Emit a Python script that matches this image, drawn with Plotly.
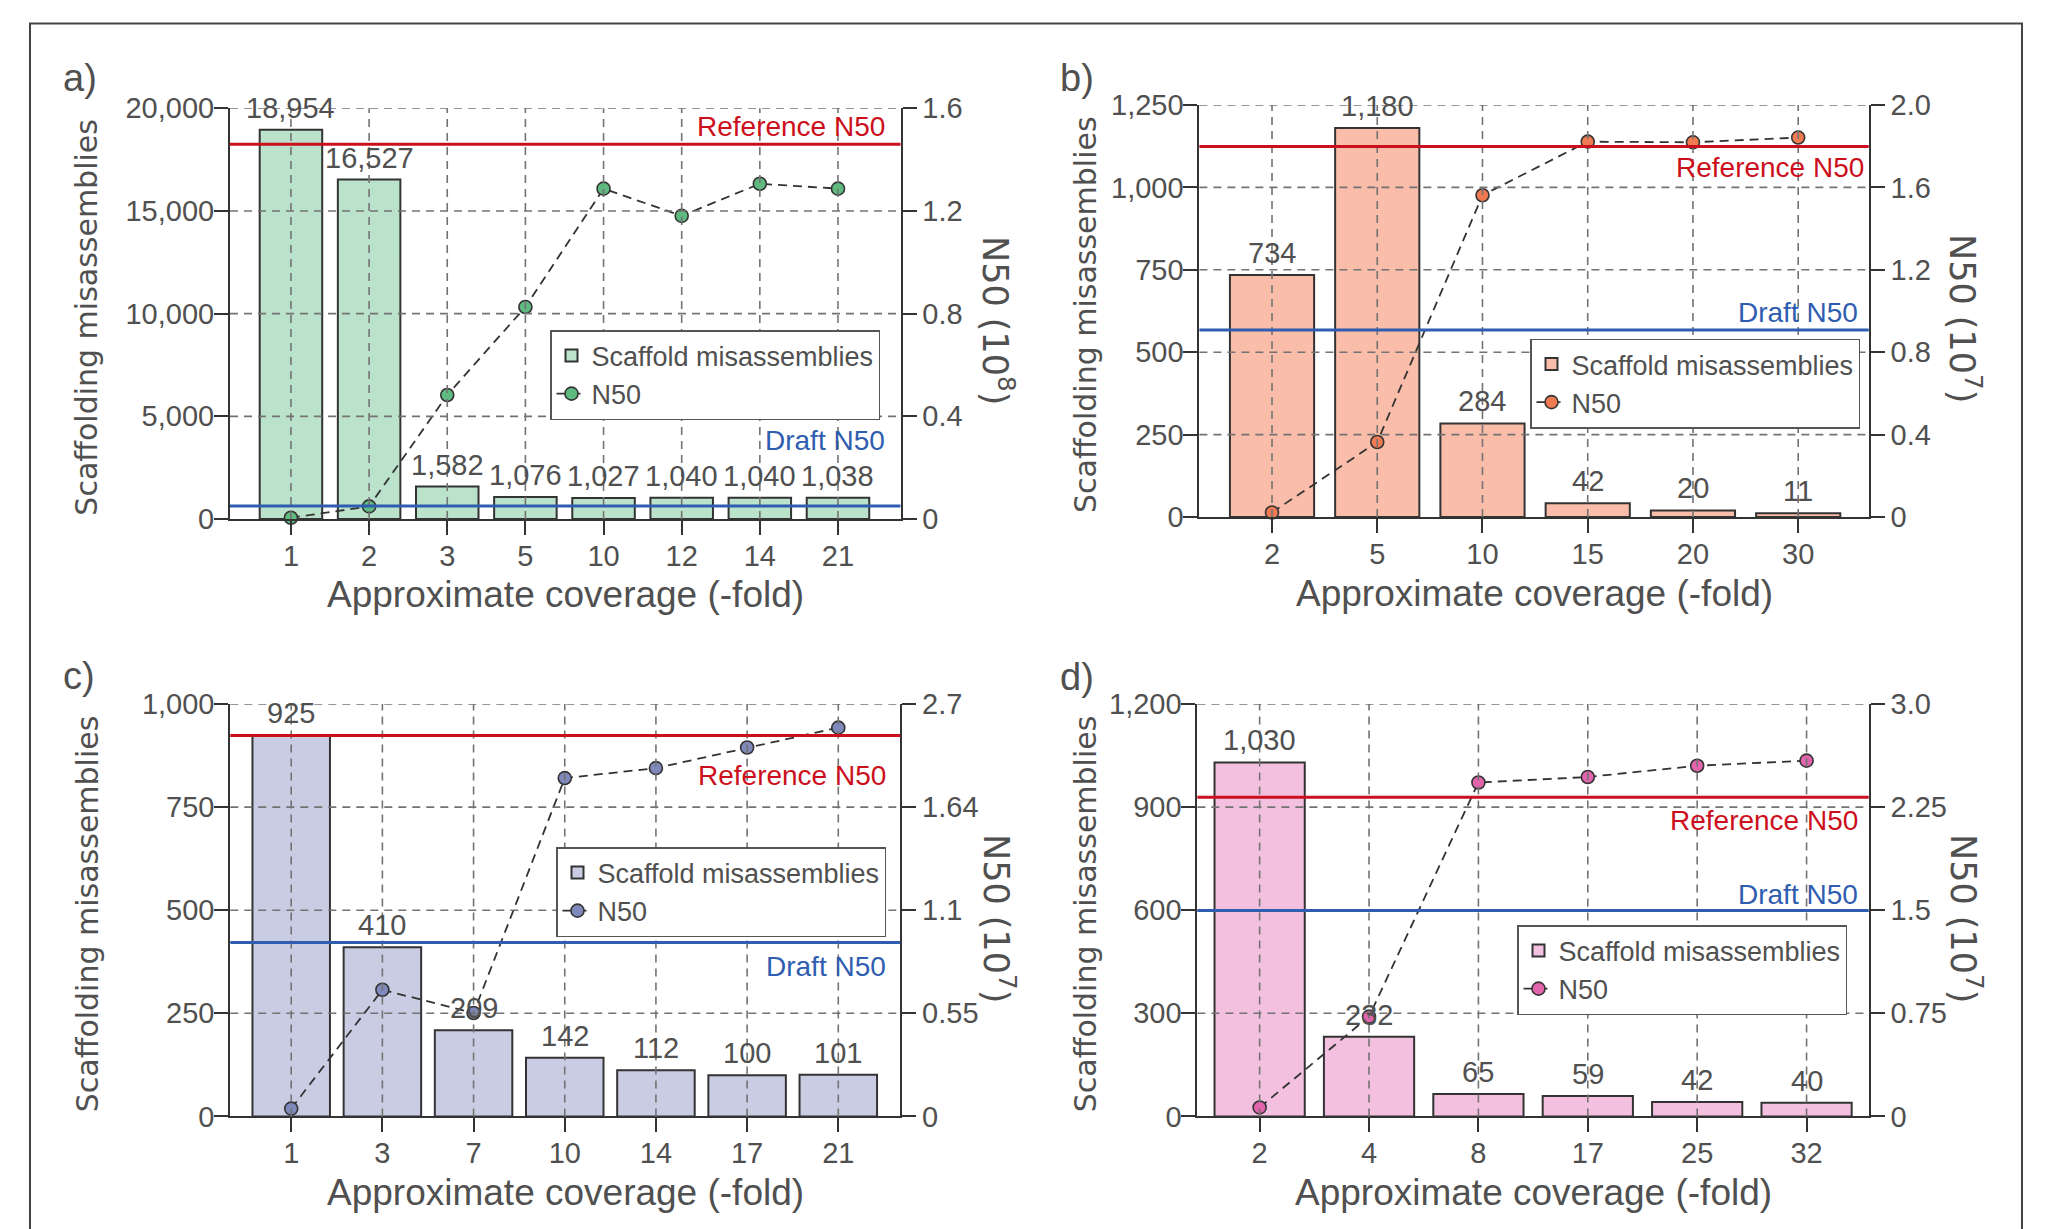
import plotly.graph_objects as go

W, H = 2052, 1229

# ---------------- data ----------------
a_cov = ["1", "2", "3", "5", "10", "12", "14", "21"]
a_mis = [18954, 16527, 1582, 1076, 1027, 1040, 1040, 1038]
a_n50 = [0.005, 0.049, 0.483, 0.826, 1.287, 1.181, 1.306, 1.287]
a_ref_n50 = 1.46
a_draft_n50 = 0.051
a_left_ticks = [0, 5000, 10000, 15000, 20000]
a_right_ticks = [0, 0.4, 0.8, 1.2, 1.6]
a_right_text = ["0", "0.4", "0.8", "1.2", "1.6"]
a_right_title = "N50 (10<sup>8</sup>)"

b_cov = ["2", "5", "10", "15", "20", "30"]
b_mis = [734, 1180, 284, 42, 20, 11]
b_n50 = [0.022, 0.364, 1.562, 1.822, 1.819, 1.842]
b_ref_n50 = 1.798
b_draft_n50 = 0.908
b_left_ticks = [0, 250, 500, 750, 1000, 1250]
b_right_ticks = [0, 0.4, 0.8, 1.2, 1.6, 2.0]
b_right_text = ["0", "0.4", "0.8", "1.2", "1.6", "2.0"]
b_right_title = "N50 (10<sup>7</sup>)"

c_cov = ["1", "3", "7", "10", "14", "17", "21"]
c_mis = [925, 410, 209, 142, 112, 100, 101]
c_n50 = [0.051, 0.829, 0.677, 2.215, 2.28, 2.415, 2.545]
c_ref_n50 = 2.494
c_draft_n50 = 1.139
c_left_ticks = [0, 250, 500, 750, 1000]
c_right_ticks = [0, 0.675, 1.35, 2.025, 2.7]
c_right_text = ["0", "0.55", "1.1", "1.64", "2.7"]
c_right_title = "N50 (10<sup>7</sup>)"

d_cov = ["2", "4", "8", "17", "25", "32"]
d_mis = [1030, 232, 65, 59, 42, 40]
d_n50 = [0.065, 0.726, 2.429, 2.469, 2.551, 2.588]
d_ref_n50 = 2.322
d_draft_n50 = 1.497
d_left_ticks = [0, 300, 600, 900, 1200]
d_right_ticks = [0, 0.75, 1.5, 2.25, 3.0]
d_right_text = ["0", "0.75", "1.5", "2.25", "3.0"]
d_right_title = "N50 (10<sup>7</sup>)"

panel_letters = ["a)", "b)", "c)", "d)"]
bar_name = "Scaffold misassemblies"
line_name = "N50"
ref_label = "Reference N50"
draft_label = "Draft N50"
left_title = "Scaffolding misassemblies"
x_title = "Approximate coverage (-fold)"

# ---------------- styling / layout ----------------
NUM = "Liberation Sans, Arial, sans-serif"
TIT = "DejaVu Sans, Liberation Sans, sans-serif"
TXT = "#505050"
AX = "#333333"
GRID = "#737373"
RED = "#cc0f1c"
BLUE = "#2f5db0"

panels = [
    dict(cov=a_cov, mis=a_mis, n50=a_n50, ref=a_ref_n50, draft=a_draft_n50,
         lt=a_left_ticks, rt=a_right_ticks, rtt=a_right_text, rtitle=a_right_title,
         box=(230, 900.5, 108.3, 519), xr=(-0.78, 7.8), bw=0.8,
         fill="#bbe2cb", mk="#5fba80",
         leg=(550, 330), letter=(80, 78), ltx=87, rtx=998, rty=320,
         refshift=(-13, 18), draftshift=(-13, 65)),
    dict(cov=b_cov, mis=b_mis, n50=b_n50, ref=b_ref_n50, draft=b_draft_n50,
         lt=b_left_ticks, rt=b_right_ticks, rtt=b_right_text, rtitle=b_right_title,
         box=(1199.4, 1868.7, 105, 517), xr=(-0.69, 5.67), bw=0.8,
         fill="#fabda9", mk="#f07a52",
         leg=(1530, 338.5), letter=(1077, 78), ltx=1085, rtx=1965, rty=318,
         refshift=(-3, -21), draftshift=(-9, 17)),
    dict(cov=c_cov, mis=c_mis, n50=c_n50, ref=c_ref_n50, draft=c_draft_n50,
         lt=c_left_ticks, rt=c_right_ticks, rtt=c_right_text, rtitle=c_right_title,
         box=(230.3, 900.3, 704, 1116.4), xr=(-0.668, 6.68), bw=0.85,
         fill="#c9cce3", mk="#8089bb",
         leg=(556, 847), letter=(79, 676), ltx=87, rtx=999, rty=918,
         refshift=(-12, -40), draftshift=(-12, -24)),
    dict(cov=d_cov, mis=d_mis, n50=d_n50, ref=d_ref_n50, draft=d_draft_n50,
         lt=d_left_ticks, rt=d_right_ticks, rtt=d_right_text, rtitle=d_right_title,
         box=(1197.4, 1868.7, 704, 1116.4), xr=(-0.569, 5.568), bw=0.825,
         fill="#f3c0df", mk="#e164ac",
         leg=(1517, 925), letter=(1077, 677), ltx=1085, rtx=1966, rty=918,
         refshift=(-9, -23), draftshift=(-9, 16)),
]


def px(x):
    return x / W


def py(y):
    return 1 - y / H


fig = go.Figure()
layout = dict(
    width=W, height=H,
    margin=dict(l=0, r=0, t=0, b=0, pad=0, autoexpand=False),
    paper_bgcolor="white", plot_bgcolor="white",
    showlegend=True,
    font=dict(family=NUM, color=TXT, size=28),
)
shapes = []
annotations = []

for i, p in enumerate(panels):
    n = i + 1
    xid = "x" if n == 1 else f"x{n}"
    yl_n, yr_n = 2 * i + 1, 2 * i + 2
    ylid = "y" if yl_n == 1 else f"y{yl_n}"
    yrid = f"y{yr_n}"
    xkey = "xaxis" if n == 1 else f"xaxis{n}"
    ylkey = "yaxis" if yl_n == 1 else f"yaxis{yl_n}"
    yrkey = f"yaxis{yr_n}"
    legkey = "legend" if n == 1 else f"legend{n}"

    x0, x1, y0, y1 = p["box"]

    fig.add_trace(go.Bar(
        x=p["cov"], y=p["mis"], xaxis=xid, yaxis=ylid, width=p["bw"],
        name=bar_name, legend=legkey, legendgroup=f"bar{n}",
        marker=dict(color=p["fill"], line=dict(color=AX, width=2)),
        cliponaxis=False, hoverinfo="skip",
    ))
    fig.add_trace(go.Scatter(
        x=p["cov"], y=p["n50"], xaxis=xid, yaxis=yrid,
        mode="lines+markers", name=line_name, legend=legkey, legendgroup=f"line{n}",
        line=dict(color=AX, width=1.8, dash="9px,6px"),
        marker=dict(size=13, color=p["mk"], line=dict(color=AX, width=1.6)),
        cliponaxis=False, hoverinfo="skip",
    ))

    # value labels above bars (x given as category index on the category axis)
    for j, v in enumerate(p["mis"]):
        annotations.append(dict(text=f"{v:,}", xref=xid, yref=ylid, x=j, y=v,
                                yanchor="middle", xanchor="center", yshift=22,
                                showarrow=False,
                                font=dict(family=NUM, size=29, color=TXT)))

    common_ax = dict(
        showgrid=False, zeroline=False, automargin=False,
        showline=True, linecolor=AX, linewidth=2,
        ticks="outside", ticklen=14, tickwidth=2, tickcolor=AX,
        tickfont=dict(family=NUM, size=29, color=TXT),
        fixedrange=True,
    )
    layout[xkey] = dict(
        domain=[px(x0), px(x1)], anchor=ylid, type="category",
        range=list(p["xr"]), ticklabelstandoff=-4, **common_ax,
    )
    layout[ylkey] = dict(
        domain=[py(y1), py(y0)], anchor=xid,
        range=[0, p["lt"][-1]], tickvals=p["lt"], tickformat=",d",
        ticklabelstandoff=-6, **common_ax,
    )
    layout[yrkey] = dict(
        overlaying=ylid, side="right", anchor=xid,
        range=[0, p["rt"][-1]], tickvals=p["rt"], ticktext=p["rtt"], **common_ax,
    )
    layout[legkey] = dict(
        x=px(p["leg"][0]), y=py(p["leg"][1]), xanchor="left", yanchor="top",
        bgcolor="white", bordercolor="#555555", borderwidth=1.5,
        font=dict(family=NUM, size=27, color=TXT),
        tracegroupgap=5, itemwidth=30, traceorder="normal",
    )

    # grid lines (drawn over bars, as in the reference)
    for v in p["lt"][1:]:
        shapes.append(dict(type="line", xref=f"{xid} domain", x0=0, x1=1,
                           yref=ylid, y0=v, y1=v, layer="above",
                           line=dict(color=GRID, width=1.6, dash="8px,6px")))
    for j in range(len(p["cov"])):
        shapes.append(dict(type="line", xref=xid, x0=j, x1=j,
                           yref=f"{ylid} domain", y0=0, y1=1, layer="above",
                           line=dict(color=GRID, width=1.6, dash="8px,6px")))
    # reference / draft N50 lines
    shapes.append(dict(type="line", xref=f"{xid} domain", x0=0, x1=1,
                       yref=yrid, y0=p["ref"], y1=p["ref"], layer="above",
                       line=dict(color=RED, width=3)))
    shapes.append(dict(type="line", xref=f"{xid} domain", x0=0, x1=1,
                       yref=yrid, y0=p["draft"], y1=p["draft"], layer="above",
                       line=dict(color=BLUE, width=3)))

    annotations.append(dict(text=ref_label, xref=f"{xid} domain", x=1, xanchor="right",
                            xshift=p["refshift"][0], yref=yrid, y=p["ref"], yanchor="middle",
                            yshift=p["refshift"][1], showarrow=False,
                            font=dict(family=NUM, size=28, color=RED)))
    annotations.append(dict(text=draft_label, xref=f"{xid} domain", x=1, xanchor="right",
                            xshift=p["draftshift"][0], yref=yrid, y=p["draft"], yanchor="middle",
                            yshift=p["draftshift"][1], showarrow=False,
                            font=dict(family=NUM, size=28, color=BLUE)))

    # titles
    annotations.append(dict(text=x_title, xref="paper", yref="paper",
                            x=px((x0 + x1) / 2), y=py(y1 + 76), xanchor="center", yanchor="middle",
                            showarrow=False, font=dict(family=NUM, size=37, color=TXT)))
    annotations.append(dict(text=left_title, xref="paper", yref="paper", textangle=-90,
                            x=px(p["ltx"]), y=py((y0 + y1) / 2 + 4), xanchor="center", yanchor="middle",
                            showarrow=False, font=dict(family=TIT, size=30, color=TXT)))
    annotations.append(dict(text=p["rtitle"], xref="paper", yref="paper", textangle=90,
                            x=px(p["rtx"]), y=py(p["rty"]), xanchor="center", yanchor="middle",
                            showarrow=False, font=dict(family=TIT, size=35, color=TXT)))
    annotations.append(dict(text=panel_letters[i], xref="paper", yref="paper",
                            x=px(p["letter"][0]), y=py(p["letter"][1]), xanchor="center", yanchor="middle",
                            showarrow=False, font=dict(family=NUM, size=38, color=TXT)))

# outer frame
shapes.append(dict(type="rect", xref="paper", yref="paper",
                   x0=px(30), x1=px(2022), y0=py(1260), y1=py(23.5), layer="above",
                   line=dict(color="#444444", width=2), fillcolor="rgba(0,0,0,0)"))

layout["shapes"] = shapes
layout["annotations"] = annotations
fig.update_layout(**layout)

fig.write_html("out.html", config={"displayModeBar": False},
               post_script="document.body.style.margin='0';document.body.style.overflow='hidden';")
